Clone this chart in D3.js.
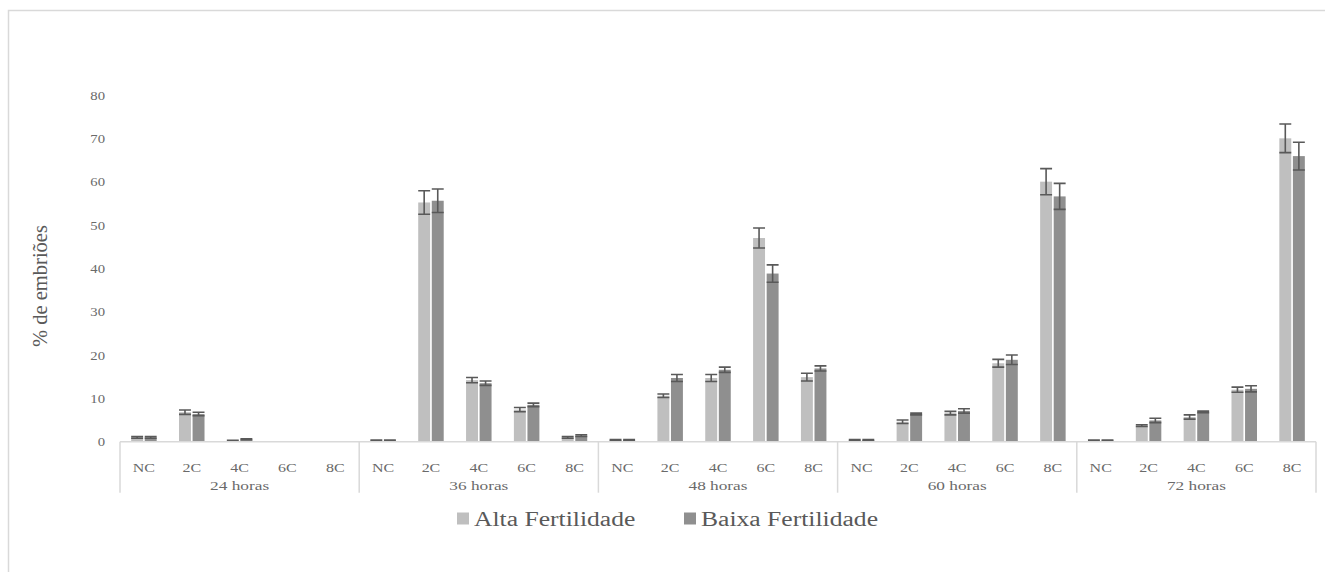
<!DOCTYPE html>
<html>
<head>
<meta charset="utf-8">
<script src="https://cdn.jsdelivr.net/npm/d3@7"></script>
<style>
  html, body { margin: 0; padding: 0; background: #ffffff; }
  svg { display: block; }
  text { font-family: "Liberation Serif", "Times New Roman", serif; fill: #595959; }
</style>
</head>
<body>
<svg id="chart" width="1325" height="572"></svg>
<script>
// Time points (outer groups) and embryo stages (inner categories)
const groups = ["24 horas", "36 horas", "48 horas", "60 horas", "72 horas"];
const stages = ["NC", "2C", "4C", "6C", "8C"];
const seriesNames = ["Alta Fertilidade", "Baixa Fertilidade"];
const yTicks = [0, 10, 20, 30, 40, 50, 60, 70, 80];

// % of embryos per stage, one row per time point
const altaValues = [
  [1.0, 6.8, 0.25, 0, 0],
  [0.3, 55.2, 14.2, 7.4, 1.0],
  [0.4, 10.6, 14.7, 47.0, 14.9],
  [0.4, 4.6, 6.6, 18.1, 60.0],
  [0.3, 3.7, 5.7, 12.0, 70.0]
];
const baixaValues = [
  [1.0, 6.4, 0.55, 0, 0],
  [0.3, 55.6, 13.5, 8.5, 1.4],
  [0.4, 14.7, 16.6, 38.8, 16.9],
  [0.4, 6.4, 7.1, 18.9, 56.6],
  [0.3, 4.9, 6.9, 12.2, 65.9]
];
// Standard errors
const altaErrors = [
  [0.2, 0.5, 0.1, 0, 0],
  [0.1, 2.7, 0.6, 0.5, 0.2],
  [0.1, 0.4, 0.8, 2.3, 0.9],
  [0.1, 0.4, 0.4, 0.9, 3.0],
  [0.1, 0.2, 0.5, 0.6, 3.3]
];
const baixaErrors = [
  [0.2, 0.4, 0.1, 0, 0],
  [0.1, 2.7, 0.5, 0.4, 0.2],
  [0.1, 0.8, 0.6, 2.0, 0.6],
  [0.1, 0.2, 0.5, 1.1, 3.0],
  [0.1, 0.5, 0.2, 0.7, 3.2]
];

const colors = { "Alta Fertilidade": "#bfbfbf", "Baixa Fertilidade": "#8f8f8f" };
const SX = 1.28; // horizontal widening of the serif lettering

const svg = d3.select("#chart");

// Frame lines (top and left)
svg.append("path")
  .attr("d", "M8.5,572 V10.5 H1325")
  .attr("fill", "none")
  .attr("stroke", "#d9d9d9")
  .attr("stroke-width", 1.5);

const plotLeft = 120, plotRight = 1316;
const y0 = 441.7, yTop = 95;

const y = d3.scaleLinear().domain([0, 80]).range([y0, yTop]);
const xGroup = d3.scaleBand().domain(groups).range([plotLeft, plotRight]).padding(0);
const xStage = d3.scaleBand().domain(stages).range([0, xGroup.bandwidth()]).padding(0);
const pairWidth = 25.5;
const xSeries = d3.scaleBand().domain(seriesNames)
  .range([-pairWidth / 2, pairWidth / 2]).paddingInner(0.12).paddingOuter(0);

// Flattened records
const records = [];
groups.forEach((g, gi) => {
  stages.forEach((s, si) => {
    records.push({ group: g, stage: s, series: seriesNames[0], value: altaValues[gi][si], err: altaErrors[gi][si] });
    records.push({ group: g, stage: s, series: seriesNames[1], value: baixaValues[gi][si], err: baixaErrors[gi][si] });
  });
});
const stageCenter = d => xGroup(d.group) + xStage(d.stage) + xStage.bandwidth() / 2;
const barX = d => stageCenter(d) + xSeries(d.series);

// Y axis labels
const yAxis = d3.axisLeft(y).tickValues(yTicks).tickSize(0).tickPadding(0);
const yG = svg.append("g").attr("transform", `translate(${plotLeft},0)`).call(yAxis);
yG.select(".domain").remove();
yG.selectAll("text")
  .attr("x", -15 / SX)
  .attr("dy", "0.35em")
  .attr("transform", `scale(${SX},1)`)
  .style("font-family", "'Liberation Serif', serif")
  .style("font-size", "11.5px")
  .style("fill", "#6a6a6a");

// Y axis title
svg.append("text")
  .attr("transform", `translate(47,286) rotate(-90)`)
  .attr("text-anchor", "middle")
  .style("font-size", "20.5px")
  .text("% de embriões");

// Bars
svg.append("g").selectAll("rect")
  .data(records.filter(d => d.value > 0))
  .join("rect")
  .attr("x", barX)
  .attr("width", xSeries.bandwidth())
  .attr("y", d => y(d.value))
  .attr("height", d => y(0) - y(d.value))
  .attr("fill", d => colors[d.series]);

// Error bars
const capHalf = xSeries.bandwidth() / 2;
const eb = svg.append("g").attr("stroke", "#595959").attr("stroke-width", 1.6).attr("fill", "none");
eb.selectAll("path")
  .data(records.filter(d => d.value > 0))
  .join("path")
  .attr("d", d => {
    const cx = barX(d) + xSeries.bandwidth() / 2;
    const yHi = y(d.value + d.err), yLo = y(Math.max(0, d.value - d.err));
    return `M${cx - capHalf},${yHi}H${cx + capHalf}M${cx},${yHi}V${yLo}M${cx - capHalf},${yLo}H${cx + capHalf}`;
  });

// Category axis: baseline and group separators
const axisG = svg.append("g").attr("stroke", "#d9d9d9").attr("stroke-width", 1.5);
axisG.append("line").attr("x1", plotLeft).attr("x2", plotRight).attr("y1", y0).attr("y2", y0);
const seps = groups.map(g => xGroup(g)).concat([plotRight]);
axisG.selectAll("line.sep").data(seps).join("line")
  .attr("class", "sep")
  .attr("x1", d => d).attr("x2", d => d)
  .attr("y1", y0).attr("y2", y0 + 51);

// Stage labels
const stageLabels = [];
groups.forEach(g => stages.forEach(s => stageLabels.push({ group: g, stage: s })));
svg.append("g").selectAll("text")
  .data(stageLabels)
  .join("text")
  .attr("transform", d => `translate(${stageCenter(d)},${y0 + 30}) scale(${SX},1)`)
  .attr("text-anchor", "middle")
  .style("font-size", "12.5px")
  .style("fill", "#6a6a6a")
  .text(d => d.stage);

// Group labels
svg.append("g").selectAll("text")
  .data(groups)
  .join("text")
  .attr("transform", g => `translate(${xGroup(g) + xGroup.bandwidth() / 2},${y0 + 48}) scale(${SX},1)`)
  .attr("text-anchor", "middle")
  .style("font-size", "13.5px")
  .style("fill", "#6a6a6a")
  .text(g => g);

// Legend
const legendItems = [
  { name: seriesNames[0], x: 457 },
  { name: seriesNames[1], x: 684 }
];
const lg = svg.append("g");
lg.selectAll("rect").data(legendItems).join("rect")
  .attr("x", d => d.x).attr("y", 512.5)
  .attr("width", 12).attr("height", 12)
  .attr("fill", d => colors[d.name]);
lg.selectAll("text").data(legendItems).join("text")
  .attr("transform", d => `translate(${d.x + 17},526) scale(${SX},1)`)
  .style("font-size", "20px")
  .text(d => d.name);
</script>
</body>
</html>
